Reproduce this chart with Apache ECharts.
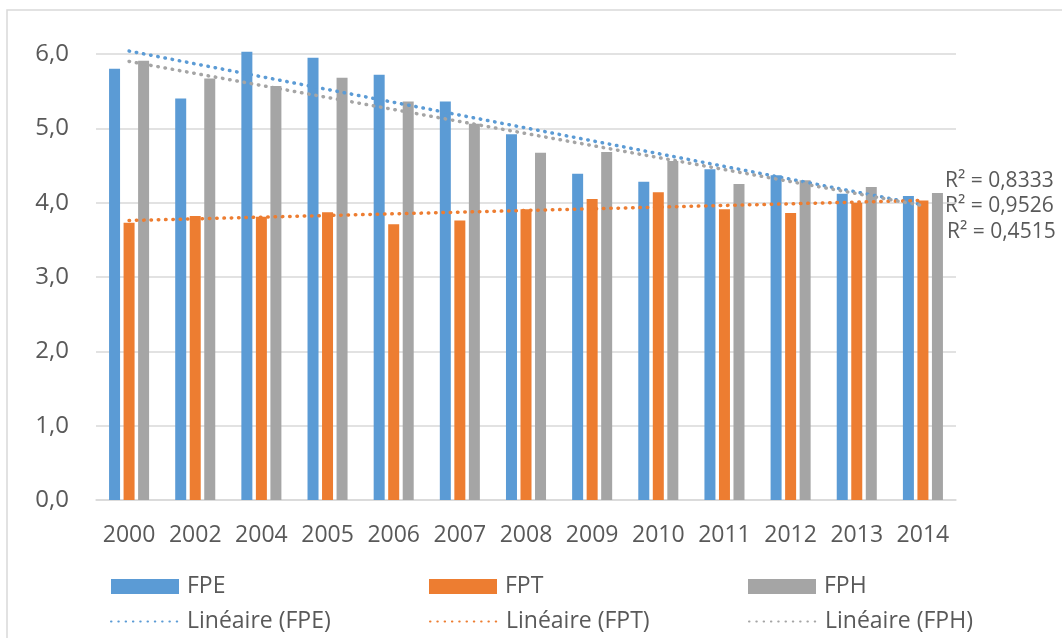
<!DOCTYPE html>
<html>
<head>
<meta charset="utf-8">
<script src="https://cdn.jsdelivr.net/npm/echarts@6/dist/echarts.min.js"></script>
<style>
	html, body { margin: 0; padding: 0; background: #fff; }
	#chart { width: 1062px; height: 638px; }
</style>
</head>
<body>
<div id="chart"></div>
<script>
// categories and values
const years = ['2000', '2002', '2004', '2005', '2006', '2007', '2008', '2009', '2010', '2011', '2012', '2013', '2014']
const fpe = [5.80, 5.40, 6.03, 5.95, 5.72, 5.36, 4.92, 4.39, 4.28, 4.45, 4.37, 4.12, 4.09]
const fpt = [3.73, 3.82, 3.81, 3.87, 3.71, 3.76, 3.91, 4.05, 4.14, 3.91, 3.86, 4.00, 4.03]
const fph = [5.91, 5.67, 5.57, 5.68, 5.36, 5.06, 4.67, 4.68, 4.56, 4.25, 4.30, 4.21, 4.13]

// trend line end points (first and last year)
const trendFPE = [6.04, 3.97]
const trendFPT = [3.76, 4.03]
const trendFPH = [5.90, 3.96]

const r2Labels = ['R² = 0,8333', 'R² = 0,9526', 'R² = 0,4515']

const BLUE = '#5b9bd5'
const ORANGE = '#ed7d31'
const GRAY = '#a5a5a5'
const TEXT = '#595959'
const FONT = '"Open Sans", sans-serif'

// put the two ends on the first and last category, gaps in between
const trendData = (ends) => years.map((y, i) => i === 0 ? ends[0] : (i === years.length - 1 ? ends[1] : null))

const barSeries = (name, data, color) => ({
	name: name,
	type: 'bar',
	data: data,
	barWidth: 11,
	barGap: '32%',
	clip: false,
	itemStyle: { color: color },
	z: 2
})

const trendSeries = (name, ends, color) => ({
	name: name,
	type: 'line',
	data: trendData(ends),
	connectNulls: true,
	symbol: 'none',
	silent: true,
	clip: false,
	lineStyle: { color: color, width: 3.5, type: [0.5, 6.8], cap: 'round' },
	itemStyle: { color: color },
	z: 5
})

const legendAt = (name, left, top, isLine) => ({
	data: [name],
	left: left,
	top: top,
	padding: 0,
	itemWidth: 68,
	itemHeight: isLine ? 14 : 15,
	icon: isLine ? undefined : 'rect',
	// hide the symbol dot drawn in the middle of line icons
	itemStyle: isLine ? { opacity: 0 } : {},
	textStyle: { color: TEXT, fontSize: 23, fontFamily: FONT, padding: [0, 0, 0, 3] }
})

const chart = echarts.init(document.getElementById('chart'))

const option = {
	animation: false,
	backgroundColor: '#fff',
	grid: { left: 96, right: 106, top: 54, bottom: 138 },
	xAxis: {
		type: 'category',
		data: years,
		axisTick: { show: false },
		axisLine: { lineStyle: { color: '#d9d9d9', width: 1.5 } },
		axisLabel: { color: TEXT, fontSize: 23, fontFamily: FONT, margin: 24, interval: 0 }
	},
	yAxis: {
		type: 'value',
		min: 0,
		max: 6,
		interval: 1,
		axisLine: { show: false },
		axisTick: { show: false },
		axisLabel: {
			color: TEXT, fontSize: 24, fontFamily: FONT, margin: 27,
			formatter: (v) => v.toFixed(1).replace('.', ',')
		},
		splitLine: { lineStyle: { color: '#d9d9d9', width: 1.5 } }
	},
	legend: [
		legendAt('FPE', 111, 575, false),
		legendAt('FPT', 429, 575, false),
		legendAt('FPH', 748, 575, false),
		legendAt('Linéaire (FPE)', 110, 610, true),
		legendAt('Linéaire (FPT)', 429, 610, true),
		legendAt('Linéaire (FPH)', 748, 610, true)
	],
	graphic: [
		{
			type: 'rect',
			silent: true,
			shape: { x: 7, y: 10, width: 1100, height: 700 },
			style: { fill: 'none', stroke: '#d9d9d9', lineWidth: 1.5 }
		},
		...r2Labels.map((t, i) => ({
			type: 'text',
			left: i === 2 ? 947 : 945,
			top: [171, 196, 222][i],
			silent: true,
			style: { text: t, fill: TEXT, fontSize: 21, fontFamily: FONT }
		}))
	],
	series: [
		barSeries('FPE', fpe, BLUE),
		barSeries('FPT', fpt, ORANGE),
		barSeries('FPH', fph, GRAY),
		trendSeries('Linéaire (FPE)', trendFPE, BLUE),
		trendSeries('Linéaire (FPT)', trendFPT, ORANGE),
		trendSeries('Linéaire (FPH)', trendFPH, GRAY)
	]
}

chart.setOption(option)
</script>
</body>
</html>
